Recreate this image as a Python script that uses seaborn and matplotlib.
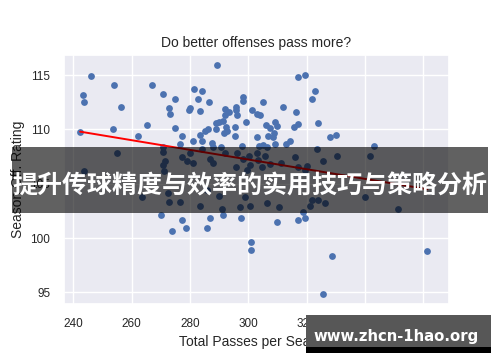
import matplotlib.pyplot as plt
import seaborn as sns
from matplotlib.patches import Rectangle

# values
passes = [
    246.0, 254.1, 243.3, 243.8, 256.4, 267.1, 270.7, 275.0, 272.9, 273.2,
    242.3, 253.7, 265.2, 262.1, 274.8, 277.1, 276.6, 270.7, 289.2, 317.0,
    319.5, 281.3, 284.2, 282.7, 280.0, 279.8, 283.6, 286.5, 298.3, 298.1,
    295.8, 295.8, 305.0, 301.2, 302.9, 304.1, 312.1, 316.3, 292.1, 293.5,
    292.1, 296.1, 299.3, 290.1, 289.0, 291.5, 295.5, 292.4, 292.6, 291.7,
    285.2, 286.3, 288.9, 295.3, 306.1, 309.2, 309.8, 307.3, 308.9, 306.9,
    308.4, 315.7, 317.2, 283.5, 281.2, 284.2, 287.5, 297.7, 302.9, 303.8,
    304.9, 309.2, 313.0, 314.4, 288.0, 290.8, 306.4, 322.8, 322.0, 324.1,
    327.9, 330.0, 323.7, 343.2,
    255.1, 243.7, 270.9, 271.5, 270.7, 271.1, 277.2, 280.0, 278.9, 281.2,
    284.1, 286.9, 287.8, 292.1, 296.3, 298.3, 295.8, 300.4, 302.9, 303.5,
    305.8, 300.6, 299.5, 304.7, 307.5, 311.2, 316.1, 317.2, 320.1, 325.8,
    341.8, 340.1, 326.4, 324.1, 310.4, 306.4, 300.6, 289.8, 290.9, 297.2,
    276.6, 283.5, 263.5, 272.6, 272.8, 330.4, 321.8, 321.2, 318.9, 351.5,
    319.5, 285.8, 298.9,
    270.0, 277.4, 273.8, 278.7, 285.9, 287.0, 291.3, 297.6, 309.9, 317.1,
    319.5, 301.0, 300.9, 328.7, 325.8, 361.5,
]
ratings = [
    114.9, 114.1, 113.2, 112.5, 112.1, 114.1, 113.3, 112.8, 112.0, 111.4,
    109.8, 110.05, 110.4, 109.4, 110.1, 109.4, 108.7, 108.4, 115.9, 114.8,
    115.0, 113.7, 113.5, 112.8, 112.0, 111.8, 111.7, 112.5, 113.0, 112.6,
    112.1, 111.8, 112.5, 111.8, 111.4, 111.3, 112.1, 111.6, 111.9, 111.6,
    111.3, 111.3, 110.7, 110.7, 110.55, 110.8, 110.2, 110.2, 109.9, 109.7,
    109.9, 110.05, 110.05, 109.4, 110.4, 110.7, 110.3, 110.1, 109.7, 109.4,
    109.3, 110.2, 110.5, 109.5, 108.9, 108.9, 108.8, 108.5, 109.3, 108.5,
    108.6, 108.7, 108.7, 108.9, 108.4, 108.4, 108.4, 113.5, 112.8, 110.6,
    109.3, 109.5, 108.2, 108.5,
    107.8, 106.2, 107.9, 107.1, 106.7, 106.2, 107.5, 107.8, 107.1, 106.9,
    108.2, 107.3, 106.9, 107.8, 107.8, 107.3, 106.55, 107.6, 107.8, 107.2,
    107.6, 106.7, 106.3, 106.55, 106.8, 106.9, 107.5, 106.55, 106.6, 107.1,
    107.6, 103.8, 103.2, 103.5, 102.9, 103.2, 103.0, 103.9, 102.7, 102.9,
    103.3, 103.0, 103.8, 104.2, 103.3, 107.6, 103.5, 103.0, 102.4, 102.65,
    106.3, 104.4, 103.8,
    102.1, 101.7, 100.65, 100.95, 100.95, 101.85, 102.1, 101.85, 101.45, 101.7,
    101.85, 99.6, 98.95, 98.35, 94.9, 98.85,
]

# fitted line end points
fit_x = [242.3, 361.5]
fit_y = [109.8, 104.5]

x_ticks = [240, 260, 280, 300, 320, 340, 360]
y_ticks = [95, 100, 105, 110, 115]

banner_text = '提升传球精度与效率的实用技巧与策略分析'
site_text = 'www.zhcn-1hao.org'

sns.set_theme(style='darkgrid')
plt.rcParams['font.family'] = ['Liberation Sans', 'DejaVu Sans']

fig = plt.figure(figsize=(5, 3.62), dpi=100)
ax = fig.add_axes([0.127, 0.159, 0.771, 0.689])

sns.scatterplot(x=passes, y=ratings, ax=ax, s=24, color='#4C72B0', linewidth=0)
sns.lineplot(x=fit_x, y=fit_y, ax=ax, color='red', linewidth=1.4)

ax.set_xticks(x_ticks)
ax.set_yticks(y_ticks)
ax.set_xlim(236.6, 368.9)
ax.set_ylim(93.9, 116.85)
ax.tick_params(labelsize=8.5, colors='#262626')
ax.set_title('Do better offenses pass more?', fontsize=10, color='#262626')
ax.set_xlabel('Total Passes per Season', fontsize=10, color='#262626')
ax.set_ylabel('Season Off. Rating', fontsize=10, color='#262626')

# banner across the middle
W, H = 500, 362
fig.add_artist(Rectangle((12 / W, 1 - 213 / H), 476 / W, 66 / H, transform=fig.transFigure,
                         facecolor='black', alpha=0.62, edgecolor='none', zorder=10))
fig.text(0.5, 1 - 186 / H, banner_text, ha='center', va='center', fontsize=18,
         color='white', fontweight='bold', family=['Noto Sans CJK SC', 'DejaVu Sans'], zorder=11)

# watermark box
fig.add_artist(Rectangle((306 / W, 1 - 347 / H), 185 / W, 32 / H, transform=fig.transFigure,
                         facecolor='#575757', edgecolor='none', zorder=10))
fig.add_artist(Rectangle((306 / W, 1 - 353 / H), 185 / W, 6 / H, transform=fig.transFigure,
                         facecolor='black', edgecolor='none', zorder=10))
fig.text(396.5 / W, 1 - 336.5 / H, site_text, ha='center', va='center', fontsize=10.7,
         color='white', fontweight='bold', family=['DejaVu Sans'], zorder=11)

fig.savefig('out.png', dpi=100)
